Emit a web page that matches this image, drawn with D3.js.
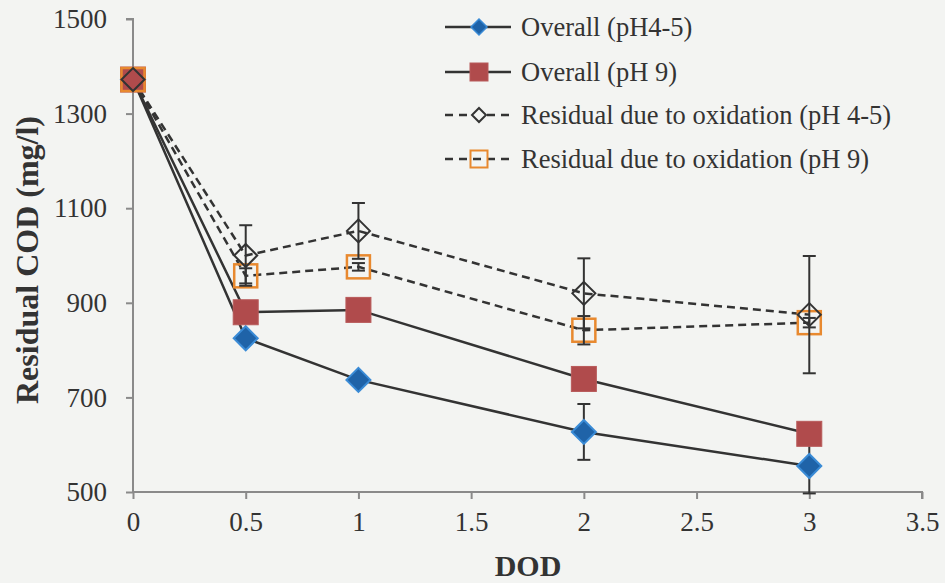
<!DOCTYPE html>
<html><head><meta charset="utf-8">
<script src="https://cdn.jsdelivr.net/npm/d3@7"></script>
<style>
html,body{margin:0;padding:0;background:#f3f4f2;}
svg{display:block;}
svg text{font-family:'Liberation Serif','Times New Roman',Times,'DejaVu Serif',serif !important;fill:#333;}
</style></head>
<body><svg id="c" width="945" height="583"></svg>
<script>
const dod = [0, 0.5, 1, 2, 3];
const overall45 = [1372, 825, 737, 627, 555];
const overall45Err = [0, 0, 0, 59, 58];
const overall9 = [1372, 880, 885, 739, 623];
const overall9Err = [0, 0, 0, 0, 0];
const resid45 = [1372, 1000, 1052, 920, 875];
const resid45Err = [0, 64, 59, 74, 124];
const resid9 = [1372, 957, 976, 842, 858];
const resid9Err = [0, 16, 8, 30, 10];
const xTicks = [0, 0.5, 1, 1.5, 2, 2.5, 3, 3.5];
const yTicks = [500, 700, 900, 1100, 1300, 1500];
const seriesNames = ["Overall (pH4-5)", "Overall (pH 9)", "Residual due to oxidation (pH 4-5)", "Residual due to oxidation (pH 9)"];

const svg = d3.select("#c");
const x = d3.scaleLinear().domain([0, 3.5]).range([133, 922]);
const y = d3.scaleLinear().domain([500, 1500]).range([492, 19]);
const axisColor = "#8a8a8a";
const lineColor = "#333";

const xAxis = svg.append("g").attr("transform", "translate(0,492)")
  .call(d3.axisBottom(x).tickValues(xTicks).tickSize(7).tickPadding(13).tickFormat(d3.format("")));
const yAxis = svg.append("g").attr("transform", "translate(133,0)")
  .call(d3.axisLeft(y).tickValues(yTicks).tickSize(7).tickPadding(19).tickFormat(d3.format("")));
[xAxis, yAxis].forEach(a => {
  a.attr("font-family", null);
  a.select(".domain").attr("stroke", axisColor).attr("stroke-width", 2);
  a.selectAll(".tick line").attr("stroke", axisColor).attr("stroke-width", 2);
  a.selectAll(".tick text").attr("font-size", 27).attr("fill", "#333");
});
xAxis.select(".domain").attr("d", `M133,0H${x(3.5)}V7`);
yAxis.select(".domain").attr("d", `M-7,${y(1500)}H0V${y(500)}`);

svg.append("text").attr("x", 528).attr("y", 576).attr("text-anchor", "middle")
  .attr("font-size", 30).attr("font-weight", "bold").text("DOD");
svg.append("text").attr("transform", "translate(38,260) rotate(-90)").attr("text-anchor", "middle")
  .attr("font-size", 32).attr("font-weight", "bold").text("Residual COD (mg/l)");

const mk = vals => dod.map((d, i) => [x(d), y(vals[i])]);
const line = d3.line();

function errBars(vals, errs) {
  const g = svg.append("g");
  dod.forEach((d, i) => {
    if (!errs[i]) return;
    const cx = x(d), y1 = y(vals[i] + errs[i]), y2 = y(vals[i] - errs[i]);
    g.append("line").attr("x1", cx).attr("x2", cx).attr("y1", y1).attr("y2", y2).attr("stroke", lineColor).attr("stroke-width", 2);
    [y1, y2].forEach(yy => g.append("line").attr("x1", cx - 6.5).attr("x2", cx + 6.5).attr("y1", yy).attr("y2", yy).attr("stroke", lineColor).attr("stroke-width", 2));
  });
}

svg.append("path").attr("d", line(mk(overall45))).attr("fill", "none").attr("stroke", lineColor).attr("stroke-width", 2.5);
svg.append("path").attr("d", line(mk(overall9))).attr("fill", "none").attr("stroke", lineColor).attr("stroke-width", 2.5);
svg.append("path").attr("d", line(mk(resid45))).attr("fill", "none").attr("stroke", lineColor).attr("stroke-width", 2.5).attr("stroke-dasharray", "8,5");
svg.append("path").attr("d", line(mk(resid9))).attr("fill", "none").attr("stroke", lineColor).attr("stroke-width", 2.5).attr("stroke-dasharray", "8,5");

errBars(overall45, overall45Err);
errBars(overall9, overall9Err);

function diamond(g, cx, cy, r, fill, stroke, sw) {
  g.append("path").attr("d", `M${cx},${cy - r}L${cx + r},${cy}L${cx},${cy + r}L${cx - r},${cy}Z`)
    .attr("fill", fill).attr("stroke", stroke).attr("stroke-width", sw);
}
function square(g, cx, cy, h, fill, stroke, sw) {
  g.append("rect").attr("x", cx - h).attr("y", cy - h).attr("width", 2 * h).attr("height", 2 * h)
    .attr("fill", fill).attr("stroke", stroke).attr("stroke-width", sw);
}
const blueFill = "#1f63a8", blueStroke = "#3a8bd6", redFill = "#b04b4c", orange = "#e8892f";

const gm = svg.append("g");
mk(overall45).forEach(([cx, cy]) => diamond(gm, cx, cy, 12, blueFill, blueStroke, 2));
mk(overall9).forEach(([cx, cy]) => square(gm, cx, cy, 12.5, redFill, "#b85a5a", 1));
mk(resid9).forEach(([cx, cy]) => square(gm, cx, cy, 11.5, "none", orange, 2.5));
errBars(resid9, resid9Err);
mk(resid45).forEach(([cx, cy]) => diamond(gm, cx, cy, 11.5, "none", lineColor, 2));
errBars(resid45, resid45Err);

const lg = svg.append("g");
const rows = [27, 72, 115, 159];
rows.forEach((ry, i) => {
  const dashed = i >= 2;
  lg.append("line").attr("x1", 445).attr("x2", 511).attr("y1", ry).attr("y2", ry)
    .attr("stroke", lineColor).attr("stroke-width", 2.5).attr("stroke-dasharray", dashed ? "8,6" : null);
  if (i === 0) diamond(lg, 479, ry, 8, blueFill, blueStroke, 1.5);
  if (i === 1) square(lg, 479, ry, 9, redFill, "#b85a5a", 1);
  if (i === 2) diamond(lg, 479, ry, 7, "#f3f4f2", lineColor, 2);
  if (i === 3) square(lg, 479, ry, 8.5, "none", orange, 2);
  lg.append("text").attr("x", 521).attr("y", ry + 8.5).attr("font-size", 26.5).text(seriesNames[i]);
});
</script></body></html>
